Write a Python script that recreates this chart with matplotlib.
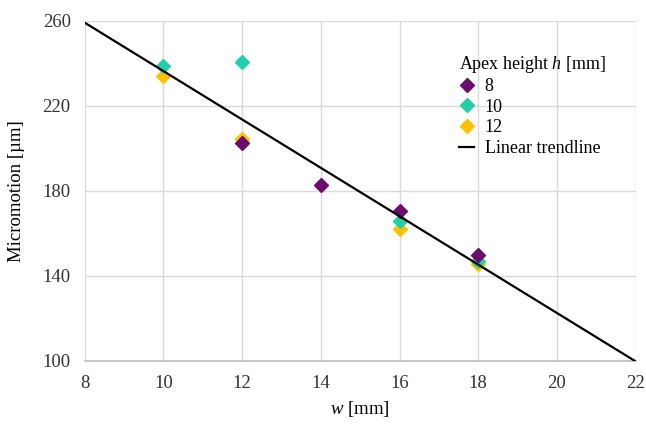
import numpy as np
import matplotlib
matplotlib.use("Agg")
import matplotlib.pyplot as plt

plt.rcParams['font.family'] = ['Liberation Serif', 'DejaVu Serif']
plt.rcParams['mathtext.fontset'] = 'custom'
plt.rcParams['mathtext.rm'] = 'Liberation Serif'
plt.rcParams['mathtext.it'] = 'Liberation Serif:italic'

# data
w_h8 = [12, 14, 16, 18]
mm_h8 = [202.3, 182.8, 170.6, 149.7]
w_h10 = [10, 12, 16, 18]
mm_h10 = [238.8, 240.7, 166.0, 146.8]
w_h12 = [10, 12, 16, 18]
mm_h12 = [234.1, 204.6, 162.2, 145.6]

series = [("8", w_h8, mm_h8, "#6a0d6e"),
          ("10", w_h10, mm_h10, "#22cfa9"),
          ("12", w_h12, mm_h12, "#ffc000")]

fig = plt.figure(figsize=(6.46, 4.24), dpi=100)
ax = fig.add_axes([0.131, 0.149, 0.853, 0.802])

# trendline fitted over all points
all_w = np.array(w_h8 + w_h10 + w_h12)
all_mm = np.array(mm_h8 + mm_h10 + mm_h12)
k, b = np.polyfit(all_w, all_mm, 1)
xs = np.array([8, 22])

# first series ends up on top
for i, (name, x, y, c) in enumerate(series):
    ax.plot(x, y, linestyle='none', marker='D', markersize=7.5, color=c,
            label=name, zorder=5 - i)
ax.plot(xs, k * xs + b, color='black', linewidth=1.6, label='Linear trendline',
        zorder=6)

ax.set_xlim(8, 22)
ax.set_ylim(100, 260)
ax.set_xticks(range(8, 23, 2))
ax.set_yticks(range(100, 261, 40))
ax.grid(True, color='#d9d9d9', linewidth=1)
ax.set_axisbelow(True)
for s in ['left', 'right', 'top']:
    ax.spines[s].set_visible(False)
ax.spines['bottom'].set_color('#bfbfbf')
ax.spines['bottom'].set_linewidth(1.2)
ax.tick_params(length=0, labelsize=13.5, colors='#333333', pad=10)

ax.set_xlabel('$w$ [mm]', fontsize=13.5, labelpad=5)
ax.set_ylabel('Micromotion [µm]', fontsize=13.5, labelpad=13)

leg = ax.legend(title='Apex height $h$ [mm]', loc='upper right',
                bbox_to_anchor=(0.96, 0.925), frameon=False, fontsize=13,
                title_fontsize=13, handlelength=0.8, handletextpad=0.6,
                labelspacing=0.2, borderaxespad=0)
leg._legend_box.align = 'left'

fig.savefig('out.png', dpi=100)
